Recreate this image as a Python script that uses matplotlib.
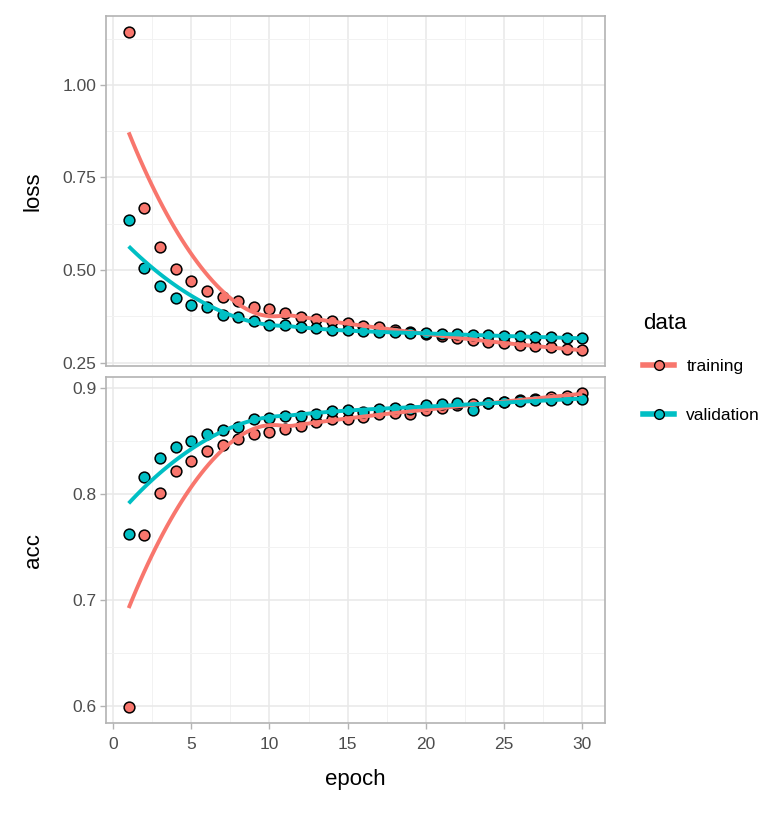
import numpy as np
import matplotlib
matplotlib.use("Agg")
import matplotlib.pyplot as plt
from matplotlib.lines import Line2D

plt.rcParams['font.family'] = ['Liberation Sans', 'DejaVu Sans']

epochs = list(range(1, 31))
train_loss = [1.143, 0.668, 0.562, 0.504, 0.471, 0.444, 0.427, 0.417, 0.401, 0.394,
              0.383, 0.374, 0.368, 0.362, 0.356, 0.350, 0.345, 0.339, 0.334, 0.328,
              0.323, 0.316, 0.312, 0.307, 0.303, 0.299, 0.295, 0.291, 0.287, 0.284]
val_loss = [0.635, 0.505, 0.456, 0.424, 0.406, 0.399, 0.380, 0.374, 0.362, 0.353,
            0.352, 0.347, 0.343, 0.338, 0.337, 0.335, 0.333, 0.332, 0.331, 0.329,
            0.328, 0.328, 0.325, 0.324, 0.322, 0.321, 0.319, 0.318, 0.317, 0.316]
train_acc = [0.599, 0.762, 0.801, 0.8225, 0.832, 0.841, 0.847, 0.852, 0.857, 0.859,
             0.862, 0.865, 0.868, 0.871, 0.871, 0.873, 0.876, 0.877, 0.876, 0.880,
             0.882, 0.884, 0.885, 0.886, 0.887, 0.889, 0.890, 0.892, 0.893, 0.896]
val_acc = [0.763, 0.816, 0.834, 0.845, 0.850, 0.857, 0.861, 0.864, 0.871, 0.8725,
           0.874, 0.874, 0.876, 0.879, 0.880, 0.878, 0.881, 0.882, 0.881, 0.884,
           0.885, 0.886, 0.880, 0.886, 0.887, 0.888, 0.889, 0.889, 0.890, 0.890]

series_names = ["training", "validation"]
colors = {"training": "#F8766D", "validation": "#00BFC4"}
metrics = ["loss", "acc"]
data = {
    "loss": {"training": train_loss, "validation": val_loss},
    "acc": {"training": train_acc, "validation": val_acc},
}
yticks = {"loss": [0.25, 0.50, 0.75, 1.00], "acc": [0.6, 0.7, 0.8, 0.9]}
yticklabels = {"loss": ["0.25", "0.50", "0.75", "1.00"], "acc": ["0.6", "0.7", "0.8", "0.9"]}
xticks = [0, 5, 10, 15, 20, 25, 30]


def loess(x, y, xs, span=0.75):
    x = np.asarray(x, float)
    y = np.asarray(y, float)
    n = len(x)
    q = int(np.floor(span * n))
    out = []
    for x0 in xs:
        d = np.abs(x - x0)
        dmax = np.sort(d)[q - 1]
        u = np.clip(d / dmax, 0, 1)
        w = (1 - u ** 3) ** 3
        X = np.vstack([np.ones(n), x - x0, (x - x0) ** 2]).T
        W = np.diag(w)
        beta = np.linalg.lstsq(X.T @ W @ X, X.T @ W @ y, rcond=None)[0]
        out.append(beta[0])
    return np.array(out)


W_PX, H_PX = 783, 814
fig = plt.figure(figsize=(W_PX / 100, H_PX / 100), dpi=100)

left = 106 / W_PX
width = (605 - 106) / W_PX
panels = {"loss": (16, 366), "acc": (377, 723)}

grid_major = "#E8E8E8"
grid_minor = "#F2F2F2"
border = "#B3B3B3"
txt_gray = "#4D4D4D"

axes = {}
for m in metrics:
    top, bot = panels[m]
    ax = fig.add_axes([left, 1 - bot / H_PX, width, (bot - top) / H_PX])
    axes[m] = ax
    xs = np.linspace(1, 30, 120)
    for s in series_names:
        ax.scatter(epochs, data[m][s], s=60, facecolor=colors[s], edgecolor="black",
                   linewidths=1.1, zorder=3)
    for s in series_names:
        ys = data[m][s]
        ax.plot(xs, loess(epochs, ys, xs), color=colors[s], lw=2.8, zorder=4,
                solid_capstyle='butt')
    ax.set_yticks(yticks[m])
    ax.set_yticklabels(yticklabels[m])
    yt = yticks[m]
    step = yt[1] - yt[0]
    ax.set_yticks([v + step / 2 for v in [yt[0] - step] + yt], minor=True)
    ax.set_xticks(xticks)
    ax.set_xticks([v + 2.5 for v in [-5] + xticks], minor=True)
    allv = np.concatenate([data[m]["training"], data[m]["validation"]])
    lo, hi = allv.min(), allv.max()
    pad = (hi - lo) * 0.05
    ax.set_ylim(lo - pad, hi + pad)
    ax.set_xlim(1 - 29 * 0.05, 30 + 29 * 0.05)
    ax.grid(True, which='major', color=grid_major, lw=1.1, zorder=0)
    ax.grid(True, which='minor', color=grid_minor, lw=0.7, zorder=0)
    ax.set_axisbelow(True)
    for sp in ax.spines.values():
        sp.set_color(border)
        sp.set_linewidth(1.2)
    ax.tick_params(axis='both', which='major', color=border, length=4, width=1,
                   labelsize=12.5, labelcolor=txt_gray, pad=3)
    ax.tick_params(axis='x', which='major', pad=6)
    ax.tick_params(axis='both', which='minor', length=0)
    ax.set_ylabel(m, fontsize=16, color="black")

axes["loss"].tick_params(axis='x', which='major', labelbottom=False, length=0)
axes["acc"].set_xlabel("epoch", fontsize=16, color="black", labelpad=12)
axes["loss"].yaxis.set_label_coords(-0.125, 0.5)
axes["acc"].yaxis.set_label_coords(-0.125, 0.5)

handles = [Line2D([0], [0], color=colors[s], lw=4, marker='o', markersize=7,
                  markerfacecolor=colors[s], markeredgecolor='black', markeredgewidth=1.0)
           for s in series_names]
leg = fig.legend(handles, series_names, title="data", loc='upper left',
                 bbox_to_anchor=(636 / W_PX, 1 - 306 / H_PX), frameon=False,
                 fontsize=12.5, title_fontsize=16, handlelength=1.8,
                 labelspacing=1.95, handletextpad=0.7, borderaxespad=0)
leg._legend_box.align = "left"
leg._legend_box.sep = 18

fig.savefig("out.png", dpi=100)
